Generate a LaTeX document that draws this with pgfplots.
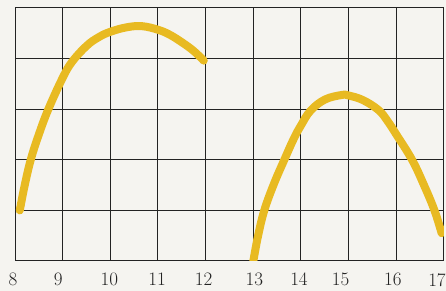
\documentclass[border=0pt]{standalone}
\usepackage{pgfplots}
\pgfplotsset{compat=1.18}
\definecolor{hl}{RGB}{232,186,34}
\definecolor{paper}{RGB}{245,244,240}
\definecolor{ink}{RGB}{35,35,35}
\newcommand\lbl[2]{\makebox[0pt]{\hspace*{#1pt}\hspace*{#1pt}#2}}
\begin{document}
\begin{tikzpicture}
\fill[paper] (0,0) rectangle (446pt,291pt);
\begin{axis}[
  at={(15pt,30pt)}, anchor=south west,
  scale only axis, width=429pt, height=253pt,
  xmin=8, xmax=17, ymin=0, ymax=5,
  xtick={8,...,17}, ytick={0,...,5},
  xticklabels={\lbl{-2}{8},\lbl{-4.5}{9},\lbl{-1}{10},\lbl{-1}{11},\lbl{-2}{12},\lbl{1}{13},\lbl{-2}{14},\lbl{-8}{15},\lbl{-3.5}{16},\lbl{-7}{17}},
  yticklabels={},
  grid=major,
  major grid style={ink, line width=1pt},
  axis line style={ink, line width=1pt},
  major tick length=0pt,
  x tick label style={font=\fontsize{19}{19}\selectfont, text=ink, anchor=north, inner sep=0pt, yshift=-12pt},
]
\addplot[hl, line width=8pt, smooth, tension=0.65, line cap=round] coordinates {
(8.1,1.0)(8.2,1.48)(8.33,2.0)(8.5,2.5)(8.7,3.0)(9.0,3.62)(9.2,3.94)(9.5,4.25)(9.75,4.42)(10.0,4.53)(10.35,4.62)(10.67,4.64)(11.0,4.57)(11.25,4.47)(11.52,4.31)(11.75,4.15)(11.96,3.96)
};
\addplot[hl, line width=8pt, smooth, tension=0.65, line cap=round] coordinates {
(13.0,0.0)(13.1,0.5)(13.23,1.0)(13.43,1.52)(13.65,2.0)(13.85,2.42)(14.0,2.68)(14.2,2.97)(14.5,3.19)(14.85,3.28)(15.0,3.27)(15.3,3.18)(15.63,2.98)(15.82,2.76)(16.0,2.5)(16.33,2.0)(16.58,1.5)(16.8,1.0)(16.95,0.55)
};
\end{axis}
\pgfresetboundingbox
\useasboundingbox (0,0) rectangle (446pt,291pt);
\end{tikzpicture}
\end{document}
